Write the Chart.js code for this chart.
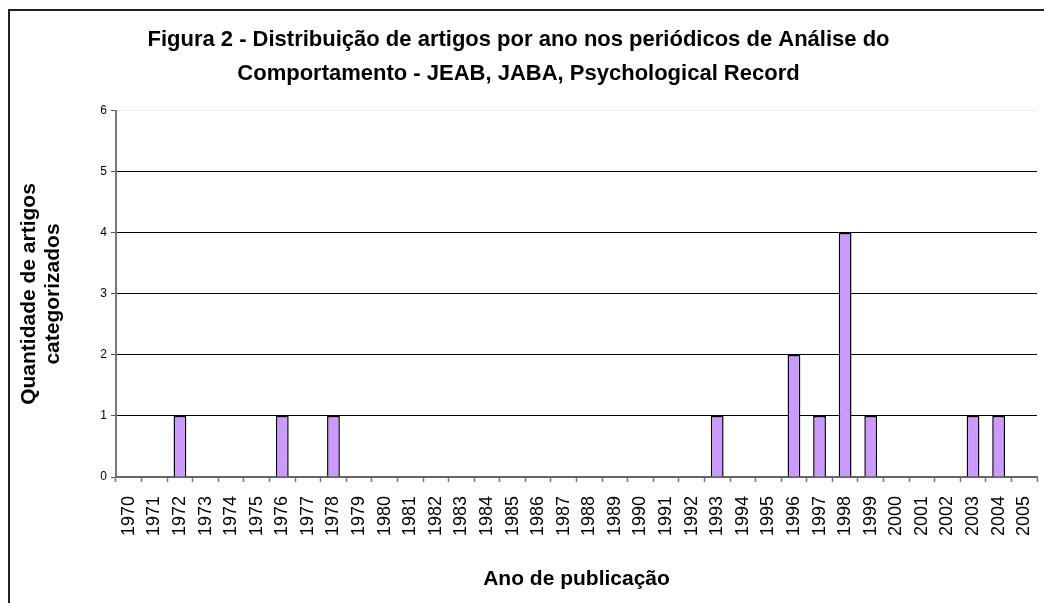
<!DOCTYPE html>
<html>
<head>
<meta charset="utf-8">
<script src="https://cdn.jsdelivr.net/npm/chart.js@4.4.1/dist/chart.umd.min.js"></script>
<style>
  html, body { margin: 0; padding: 0; background: #fff; }
  #wrap { width: 1044px; height: 603px; position: relative; }
</style>
</head>
<body>
<div id="wrap"><canvas id="chart" width="1044" height="603"></canvas></div>
<script>
// Years on the category axis
var years = ['1970', '1971', '1972', '1973', '1974', '1975', '1976', '1977', '1978', '1979',
	'1980', '1981', '1982', '1983', '1984', '1985', '1986', '1987', '1988', '1989',
	'1990', '1991', '1992', '1993', '1994', '1995', '1996', '1997', '1998', '1999',
	'2000', '2001', '2002', '2003', '2004', '2005'];

// Number of categorized articles per year
var articles = [0, 0, 1, 0, 0, 0, 1, 0, 1, 0,
	0, 0, 0, 0, 0, 0, 0, 0, 0, 0,
	0, 0, 0, 1, 0, 0, 2, 1, 4, 1,
	0, 0, 0, 1, 1, 0];

var titleLines = ['Figura 2 - Distribuição de artigos por ano nos periódicos de Análise do',
	'Comportamento - JEAB, JABA, Psychological Record'];
var yTitleLines = ['Quantidade de artigos', 'categorizados'];
var xTitle = 'Ano de publicação';

var fontFamily = 'Arial, "Liberation Sans", sans-serif';

// Draws the outer frame (top and left edges only, as in the source)
var framePlugin = {
	id: 'frame',
	beforeDraw: function(chart) {
		var ctx = chart.ctx;
		ctx.save();
		ctx.fillStyle = '#fff';
		ctx.fillRect(0, 0, chart.width, chart.height);
		ctx.strokeStyle = '#222';
		ctx.lineWidth = 2;
		ctx.beginPath();
		ctx.moveTo(9, chart.height);
		ctx.lineTo(9, 10);
		ctx.lineTo(chart.width, 10);
		ctx.stroke();
		ctx.restore();
	}
};

var ctx = document.getElementById('chart').getContext('2d');
var chart = new Chart(ctx, {
	type: 'bar',
	data: {
		labels: years,
		datasets: [{
			data: articles,
			backgroundColor: '#CC99FF',
			borderColor: '#000',
			borderWidth: 1.5,
			barPercentage: 0.5,
			categoryPercentage: 1
		}]
	},
	options: {
		responsive: false,
		animation: false,
		layout: { padding: { top: 0, right: 7, bottom: 0, left: 0 } },
		plugins: {
			legend: { display: false },
			tooltip: { enabled: false },
			title: {
				display: true,
				text: titleLines,
				color: '#000',
				font: { family: fontFamily, size: 22, weight: 'bold', lineHeight: 1.545 },
				padding: { top: 23, bottom: 20 }
			}
		},
		scales: {
			x: {
				grid: {
					display: true,
					offset: true,
					drawOnChartArea: false,
					drawTicks: true,
					tickLength: 5,
					tickColor: '#777',
					tickWidth: 1.5
				},
				border: { display: true, color: '#666', width: 2 },
				ticks: {
					autoSkip: false,
					minRotation: 90,
					maxRotation: 90,
					padding: 14,
					color: '#000',
					font: { family: fontFamily, size: 18 }
				},
				title: {
					display: true,
					text: xTitle,
					color: '#000',
					font: { family: fontFamily, size: 21, weight: 'bold', lineHeight: 1.2 },
					padding: { top: 0, bottom: 11 }
				},
				afterFit: function(scale) {
					scale.height = 126;
					// labels fit inside their categories, no side padding needed
					scale.paddingLeft = 0;
					scale.paddingRight = 0;
				}
			},
			y: {
				min: 0,
				max: 6,
				ticks: {
					stepSize: 1,
					padding: 4,
					color: '#000',
					font: { family: fontFamily, size: 12 }
				},
				grid: {
					color: function(c) { return c.tick && c.tick.value === 6 ? '#ececec' : '#000'; },
					lineWidth: 1,
					tickLength: 5,
					tickColor: '#555'
				},
				border: { display: true, color: '#777', width: 2 },
				title: {
					display: true,
					text: yTitleLines,
					color: '#000',
					font: { family: fontFamily, size: 21, weight: 'bold', lineHeight: 1.15 },
					padding: { top: 17, bottom: 0 }
				},
				afterFit: function(scale) { scale.width = 116; }
			}
		}
	},
	plugins: [framePlugin]
});
</script>
</body>
</html>
